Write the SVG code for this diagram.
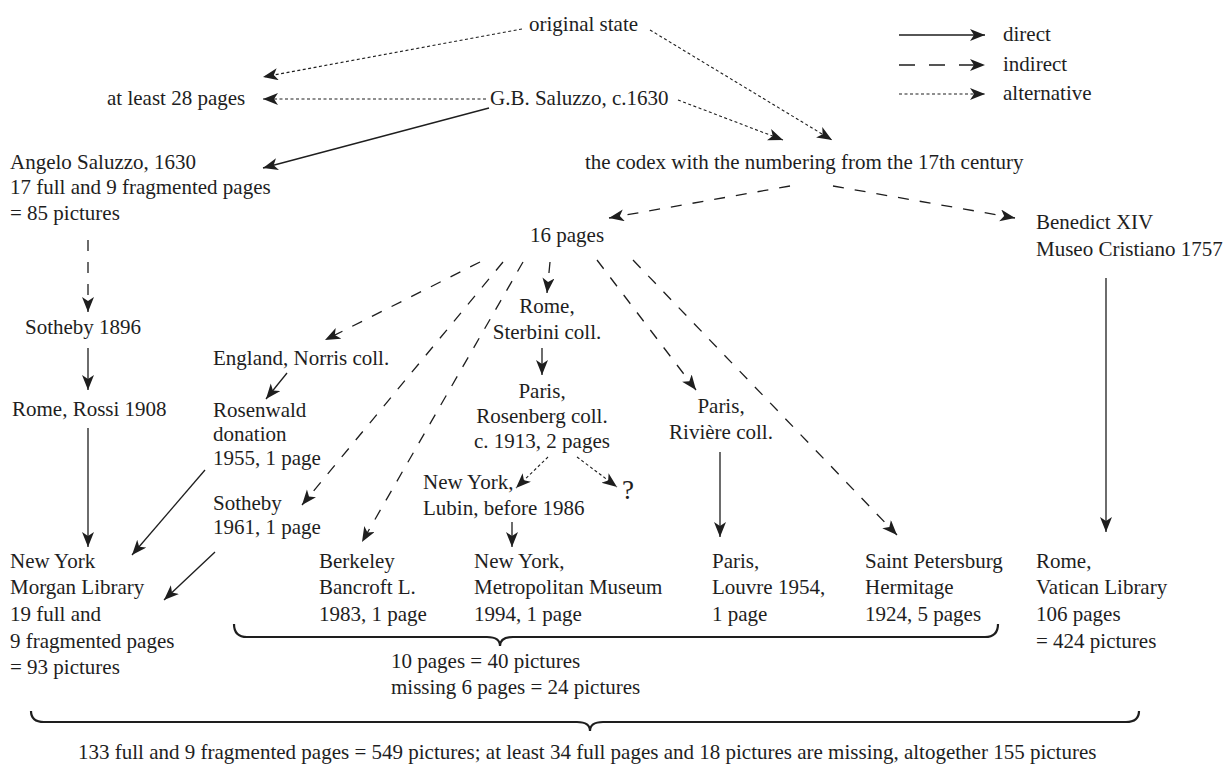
<svg xmlns="http://www.w3.org/2000/svg" width="1225" height="766" viewBox="0 0 1225 766">
<style>
text { font-family: "Liberation Serif", "Times New Roman", serif; font-size: 21px; fill: #1e1e1e; }
.c { text-anchor: middle; }
.e { stroke: #1e1e1e; stroke-width: 1.3; fill: none; marker-end: url(#ah); }
.ind { stroke-dasharray: 11 11; }
.alt { stroke-dasharray: 3 2.5; stroke-width: 1.1; }
.brace { stroke: #1e1e1e; stroke-width: 2.2; fill: none; }
</style>
<defs>
<marker id="ah" markerUnits="userSpaceOnUse" markerWidth="16" markerHeight="13" refX="15" refY="6" orient="auto">
<path d="M0,0 L15,6 L0,12 L4,6 z" fill="#1e1e1e"/>
</marker>
</defs>
<rect width="1225" height="766" fill="#ffffff"/>

<g id="legend">
<line class="e" x1="899" y1="35" x2="985" y2="35"/>
<text x="1003" y="41">direct</text>
<line class="e ind" x1="899" y1="65" x2="985" y2="65" style="stroke-dasharray:16 14"/>
<text x="1003" y="71">indirect</text>
<line class="e alt" x1="899" y1="94" x2="985" y2="94"/>
<text x="1003" y="100">alternative</text>
</g>

<g id="connectors">
<line class="e alt" x1="522" y1="29" x2="263" y2="77"/>
<line class="e alt" x1="486" y1="99" x2="263" y2="99"/>
<line class="e" x1="489" y1="108" x2="263" y2="168"/>
<line class="e alt" x1="650" y1="30" x2="832" y2="140"/>
<line class="e alt" x1="678" y1="100" x2="783" y2="140"/>
<line class="e ind" x1="790" y1="186" x2="609" y2="218"/>
<line class="e ind" x1="833" y1="186" x2="1015" y2="218"/>
<line class="e ind" x1="88" y1="240" x2="88" y2="312"/>
<line class="e" x1="88" y1="348" x2="88" y2="390"/>
<line class="e" x1="88" y1="428" x2="88" y2="547"/>
<line class="e ind" x1="480" y1="262" x2="325" y2="340"/>
<line class="e" x1="287" y1="373" x2="266" y2="399"/>
<line class="e" x1="205" y1="470" x2="132" y2="555"/>
<line class="e ind" x1="503" y1="262" x2="302" y2="505"/>
<line class="e ind" x1="523" y1="262" x2="362" y2="542"/>
<line class="e" x1="215" y1="552" x2="164" y2="600"/>
<line class="e ind" x1="550" y1="262" x2="547" y2="293"/>
<line class="e" x1="542" y1="348" x2="542" y2="375"/>
<line class="e alt" x1="548" y1="457" x2="516" y2="488"/>
<line class="e alt" x1="577" y1="457" x2="617" y2="487"/>
<line class="e" x1="512" y1="522" x2="512" y2="547"/>
<line class="e ind" x1="597" y1="260" x2="696" y2="390"/>
<line class="e" x1="720" y1="452" x2="720" y2="537"/>
<line class="e ind" x1="633" y1="260" x2="897" y2="535"/>
<line class="e" x1="1106" y1="278" x2="1106" y2="532"/>
</g>

<g id="n-original"><text x="529" y="31">original state</text></g>
<g id="n-atleast"><text x="107" y="105">at least 28 pages</text></g>
<g id="n-gb"><text x="490" y="105">G.B. Saluzzo, c.1630</text></g>
<g id="n-angelo"><text x="10" y="169">Angelo Saluzzo, 1630</text><text x="10" y="194">17 full and 9 fragmented pages</text><text x="10" y="220">= 85 pictures</text></g>
<g id="n-codex"><text x="585" y="169">the codex with the numbering from the 17th century</text></g>
<g id="n-16"><text x="530" y="242">16 pages</text></g>
<g id="n-benedict"><text x="1036" y="229">Benedict XIV</text><text x="1036" y="256">Museo Cristiano 1757</text></g>
<g id="n-sotheby1896"><text x="25" y="334">Sotheby 1896</text></g>
<g id="n-rossi"><text x="12" y="416">Rome, Rossi 1908</text></g>
<g id="n-norris"><text x="213" y="365">England, Norris coll.</text></g>
<g id="n-rosenwald"><text x="213" y="417">Rosenwald</text><text x="213" y="441">donation</text><text x="213" y="465">1955, 1 page</text></g>
<g id="n-sotheby1961"><text x="213" y="510">Sotheby</text><text x="213" y="534">1961, 1 page</text></g>
<g id="n-sterbini"><text class="c" x="547" y="313">Rome,</text><text class="c" x="547" y="339">Sterbini coll.</text></g>
<g id="n-rosenberg"><text class="c" x="542" y="398">Paris,</text><text class="c" x="542" y="423">Rosenberg coll.</text><text class="c" x="542" y="448">c. 1913, 2 pages</text></g>
<g id="n-lubin"><text x="423" y="489">New York,</text><text x="423" y="515">Lubin, before 1986</text></g>
<g id="n-unknown"><text x="622" y="499" style="font-size:27px">?</text></g>
<g id="n-riviere"><text class="c" x="721" y="413">Paris,</text><text class="c" x="721" y="439">Rivière coll.</text></g>
<g id="n-morgan"><text x="10" y="568">New York</text><text x="10" y="594">Morgan Library</text><text x="10" y="621">19 full and</text><text x="10" y="648">9 fragmented pages</text><text x="10" y="674">= 93 pictures</text></g>
<g id="n-berkeley"><text x="319" y="568">Berkeley</text><text x="319" y="594">Bancroft L.</text><text x="319" y="621">1983, 1 page</text></g>
<g id="n-met"><text x="474" y="568">New York,</text><text x="474" y="594">Metropolitan Museum</text><text x="474" y="621">1994, 1 page</text></g>
<g id="n-louvre"><text x="712" y="568">Paris,</text><text x="712" y="594">Louvre 1954,</text><text x="712" y="621">1 page</text></g>
<g id="n-hermitage"><text x="865" y="568">Saint Petersburg</text><text x="865" y="594">Hermitage</text><text x="865" y="621">1924, 5 pages</text></g>
<g id="n-vatican"><text x="1036" y="568">Rome,</text><text x="1036" y="594">Vatican Library</text><text x="1036" y="621">106 pages</text><text x="1036" y="648">= 424 pictures</text></g>

<g id="brace-16">
<path class="brace" d="M234,624 Q234,637 247,637 L487,637 Q500,637 500,646 Q500,637 513,637 L985,637 Q998,637 998,624"/>
<text x="391" y="668">10 pages = 40 pictures</text>
<text x="391" y="694">missing 6 pages = 24 pictures</text>
</g>
<g id="brace-all">
<path class="brace" d="M31,711 Q31,722 44,722 L577,722 Q590,722 590,731 Q590,722 603,722 L1126,722 Q1139,722 1139,711"/>
<text x="78" y="759">133 full and 9 fragmented pages = 549 pictures; at least 34 full pages and 18 pictures are missing, altogether 155 pictures</text>
</g>
</svg>
